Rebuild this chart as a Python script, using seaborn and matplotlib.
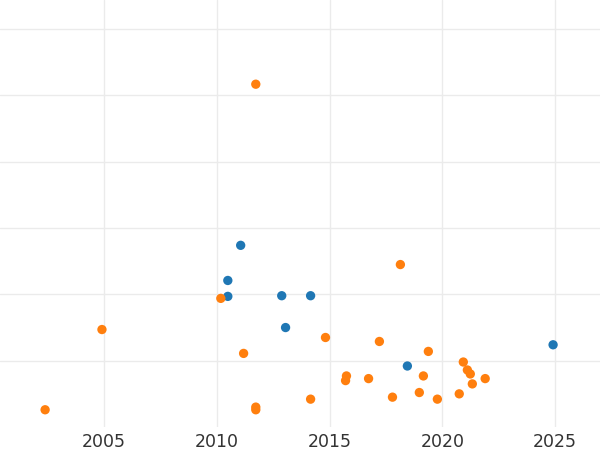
import pandas as pd
import matplotlib
matplotlib.use("Agg")
import matplotlib.pyplot as plt
import seaborn as sns

# valores (eje y sin etiquetas, unidades relativas)
anio_azul = [2011.06, 2010.49, 2010.49, 2012.88, 2014.16, 2013.05, 2018.45, 2024.91]
valor_azul = [2.74, 2.21, 1.97, 1.98, 1.98, 1.50, 0.92, 1.24]

anio_naranja = [2011.73, 2002.39, 2004.91, 2010.18, 2011.19, 2011.73, 2011.73, 2014.16,
                2014.82, 2015.75, 2015.71, 2016.73, 2017.21, 2017.79, 2018.14, 2018.98,
                2019.16, 2019.38, 2019.78, 2020.75, 2020.93, 2021.11, 2021.24, 2021.33,
                2021.90]
valor_naranja = [5.17, 0.26, 1.47, 1.94, 1.11, 0.30, 0.26, 0.42,
                 1.35, 0.77, 0.70, 0.73, 1.29, 0.45, 2.45, 0.52,
                 0.77, 1.14, 0.42, 0.50, 0.98, 0.86, 0.80, 0.65,
                 0.73]

ticks_x = [2005, 2010, 2015, 2020, 2025]

df = pd.concat([
    pd.DataFrame({'anio': anio_azul, 'valor': valor_azul, 'grupo': 'A'}),
    pd.DataFrame({'anio': anio_naranja, 'valor': valor_naranja, 'grupo': 'B'}),
], ignore_index=True)

sns.set_theme(style="whitegrid")
fig = plt.figure(figsize=(6, 4.5), dpi=100)
ax = fig.add_axes([0, 1 - 427 / 450, 1, 427 / 450])

sns.scatterplot(ax=ax, data=df, x='anio', y='valor', hue='grupo',
                palette={'A': '#1f77b4', 'B': '#ff7f0e'}, s=45, linewidth=0,
                legend=False)

ax.set_xlim(2000.39, 2026.99)
ax.set_ylim(0, 6.44)
ax.set_xticks(ticks_x)
ax.set_yticks([1, 2, 3, 4, 5, 6])
ax.set_yticklabels([])
ax.tick_params(axis='x', labelsize=12.5, colors='#333333', length=0, pad=4)
ax.tick_params(axis='y', length=0)
ax.set_xlabel('')
ax.set_ylabel('')
for s in ax.spines.values():
    s.set_visible(False)
ax.grid(color='#ebebeb', linewidth=1)

plt.savefig('out.png', dpi=100)
